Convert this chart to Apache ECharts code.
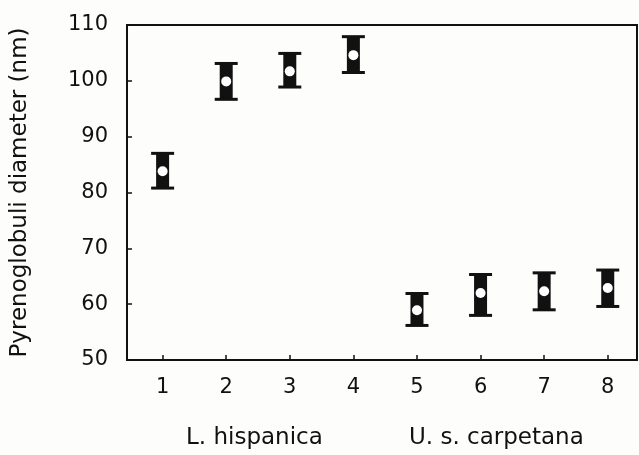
<!DOCTYPE html>
<html>
<head>
<meta charset="utf-8">
<script src="https://cdn.jsdelivr.net/npm/echarts@6/dist/echarts.min.js"></script>
<style>
    html, body { margin: 0; padding: 0; background: #fdfdfc; }
    #chart { width: 639px; height: 455px; }
</style>
</head>
<body>
<div id="chart"></div>
<script>
// sample numbers on the x axis
const samples = [1, 2, 3, 4, 5, 6, 7, 8];
// mean diameter and error bar ends (nm)
const means = [83.8, 99.9, 101.7, 104.6, 58.9, 62.0, 62.3, 62.9];
const lows = [80.7, 96.6, 98.8, 101.4, 56.1, 57.9, 58.9, 59.5];
const highs = [87.1, 103.2, 105.0, 108.0, 62.0, 65.4, 65.7, 66.2];
const yTicks = [50, 60, 70, 80, 90, 100, 110];
const groups = ["L. hispanica", "U. s. carpetana"];

const font = "DejaVu Sans";
const ink = "#111";

let data = samples.map((s, i) => [s, means[i], lows[i], highs[i]]);

/** draw one error bar: black body, caps, white centre mark */
function renderBar(params, api) {
    let x = api.value(0);
    let mid = api.coord([x, api.value(1)]);
    let lo = api.coord([x, api.value(2)]);
    let hi = api.coord([x, api.value(3)]);
    let bodyW = 13;
    let capW = 23;
    let capH = 3;
    return {
        type: "group",
        children: [
            {
                type: "rect",
                shape: { x: mid[0] - bodyW / 2, y: hi[1], width: bodyW, height: lo[1] - hi[1] },
                style: { fill: ink },
            },
            {
                type: "rect",
                shape: { x: mid[0] - capW / 2, y: hi[1] - 1, width: capW, height: capH },
                style: { fill: ink },
            },
            {
                type: "rect",
                shape: { x: mid[0] - capW / 2, y: lo[1] - capH + 1, width: capW, height: capH },
                style: { fill: ink },
            },
            {
                type: "circle",
                shape: { cx: mid[0], cy: mid[1], r: 5 },
                style: { fill: "#fff" },
            },
        ],
    };
}

let chart = echarts.init(document.getElementById("chart"));
let option = {
    backgroundColor: "#fdfdfc",
    animation: false,
    grid: {
        left: 127,
        right: 2,
        top: 25,
        bottom: 95,
        show: true,
        borderColor: ink,
        borderWidth: 2,
    },
    xAxis: {
        type: "value",
        min: 0.44,
        max: 8.46,
        axisLine: { show: true, lineStyle: { color: ink, width: 2 } },
        axisTick: {
            show: true,
            inside: true,
            length: 5,
            customValues: samples,
            lineStyle: { color: ink, width: 1.5 },
        },
        axisLabel: {
            customValues: samples,
            margin: 17,
            color: ink,
            fontFamily: font,
            fontSize: 21,
        },
        splitLine: { show: false },
    },
    yAxis: {
        type: "value",
        min: 50,
        max: 110,
        interval: 10,
        name: "Pyrenoglobuli diameter (nm)",
        nameLocation: "middle",
        nameGap: 95,
        nameTextStyle: { color: ink, fontFamily: font, fontSize: 23 },
        axisLine: { show: true, lineStyle: { color: ink, width: 2 } },
        axisTick: { show: true, inside: true, length: 5, lineStyle: { color: ink, width: 1.5 } },
        axisLabel: {
            margin: 19,
            color: ink,
            fontFamily: font,
            fontSize: 21,
            formatter: (v) => (yTicks.includes(v) ? String(v) : ""),
        },
        splitLine: { show: false },
    },
    graphic: [
        {
            type: "text",
            left: 186,
            top: 427,
            style: { text: groups[0], fill: ink, font: "23px " + font },
        },
        {
            type: "text",
            left: 409,
            top: 427,
            style: { text: groups[1], fill: ink, font: "23px " + font },
        },
    ],
    series: [
        {
            type: "custom",
            renderItem: renderBar,
            encode: { x: 0, y: [1, 2, 3] },
            data: data,
        },
    ],
};
chart.setOption(option);
</script>
</body>
</html>
